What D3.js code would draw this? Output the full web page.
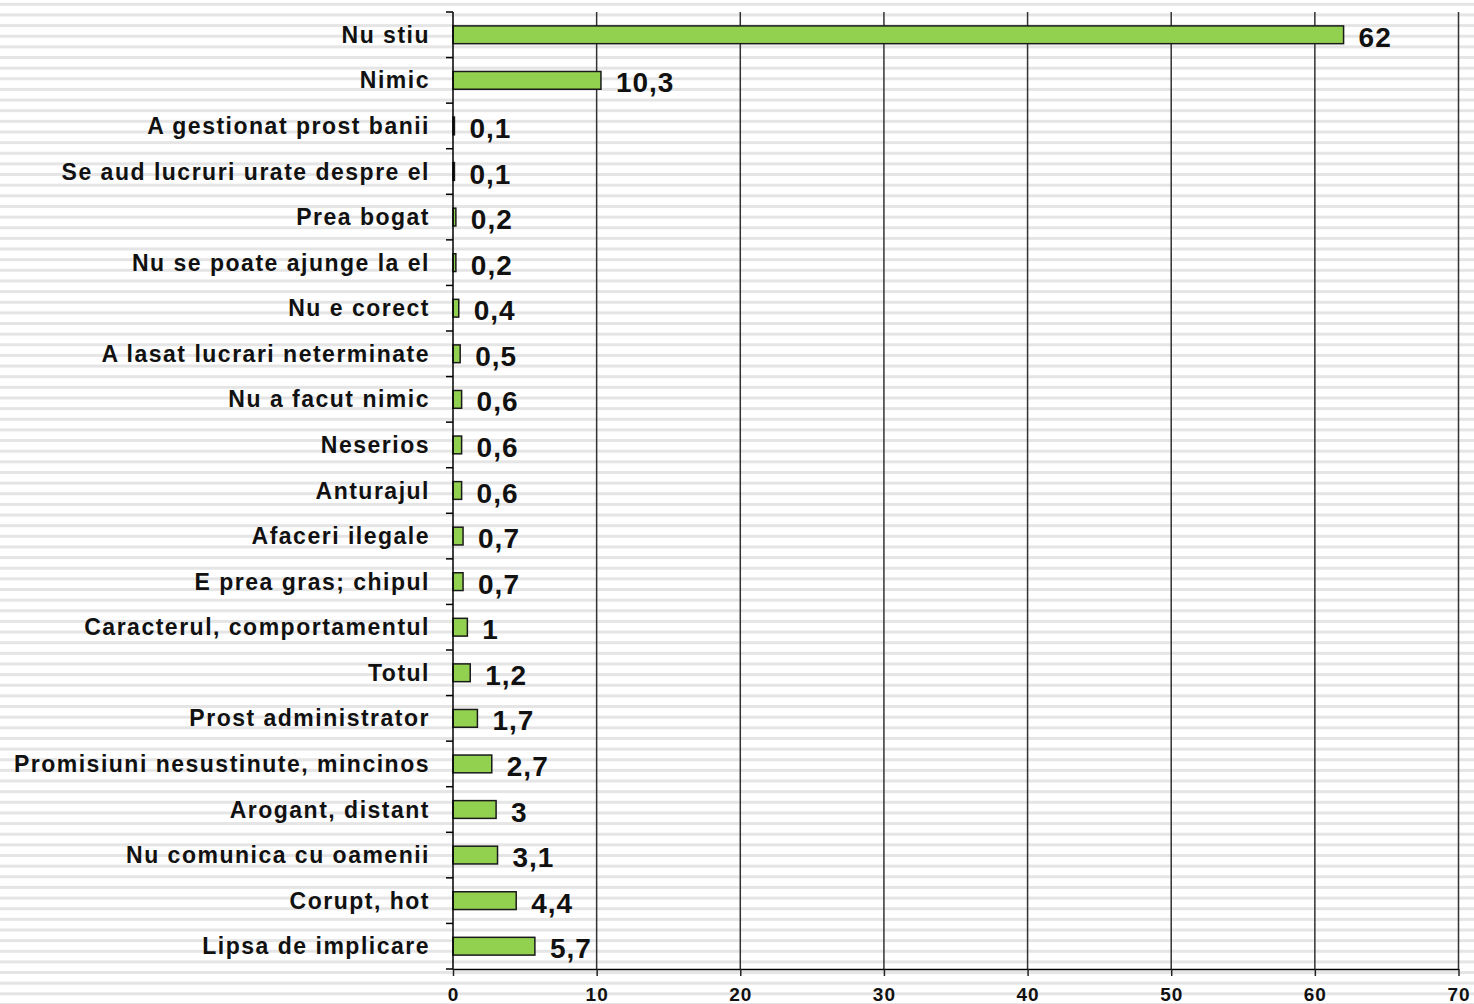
<!DOCTYPE html>
<html>
<head>
<meta charset="utf-8">
<script src="https://cdn.jsdelivr.net/npm/d3@7"></script>
<style>
	html, body { margin: 0; padding: 0; background: #fff; }
	svg text { font-family: "Liberation Sans", Arial, sans-serif; font-weight: bold; fill: #111; }
</style>
</head>
<body>
<div id="chart"></div>
<script>
const categories = [
	"Nu stiu", "Nimic", "A gestionat prost banii", "Se aud lucruri urate despre el",
	"Prea bogat", "Nu se poate ajunge la el", "Nu e corect", "A lasat lucrari neterminate",
	"Nu a facut nimic", "Neserios", "Anturajul", "Afaceri ilegale", "E prea gras; chipul",
	"Caracterul, comportamentul", "Totul", "Prost administrator", "Promisiuni nesustinute, mincinos",
	"Arogant, distant", "Nu comunica cu oamenii", "Corupt, hot", "Lipsa de implicare"
];
const values = [62, 10.3, 0.1, 0.1, 0.2, 0.2, 0.4, 0.5, 0.6, 0.6, 0.6, 0.7, 0.7, 1, 1.2, 1.7, 2.7, 3, 3.1, 4.4, 5.7];
const xTicks = [0, 10, 20, 30, 40, 50, 60, 70];

const W = 1474, H = 1004;
const margin = {top: 12, right: 15, bottom: 35, left: 453};
const width = W - margin.left - margin.right;
const height = H - margin.top - margin.bottom;

const data = categories.map((c, i) => ({name: c, value: values[i]}));

const svg = d3.select("#chart")
	.append("svg")
		.attr("width", W)
		.attr("height", H);

// striped background
const stripeStep = 10.64;
svg.append("g")
	.selectAll("rect")
	.data(d3.range(4.3 - 1.5, H, stripeStep))
	.join("rect")
		.attr("x", 0)
		.attr("y", d => d)
		.attr("width", W)
		.attr("height", 3)
		.attr("fill", "#e5e5e5");

const g = svg.append("g")
	.attr("transform", `translate(${margin.left}, ${margin.top})`);

const x = d3.scaleLinear()
	.domain([0, 70])
	.range([0, width - 0.5]);

const y = d3.scaleBand()
	.domain(categories)
	.range([0, height])
	.paddingInner(0.61)
	.paddingOuter(0.305);

// vertical gridlines
g.append("g")
	.selectAll("line")
	.data(xTicks.filter(t => t > 0))
	.join("line")
		.attr("x1", d => x(d))
		.attr("x2", d => x(d))
		.attr("y1", 0)
		.attr("y2", height)
		.attr("stroke", "#333")
		.attr("stroke-width", 1.5);

// bars
g.append("g")
	.selectAll("rect")
	.data(data)
	.join("rect")
		.attr("x", x(0))
		.attr("y", d => y(d.name))
		.attr("width", d => x(d.value))
		.attr("height", y.bandwidth())
		.attr("fill", "#92d050")
		.attr("stroke", "#1a1a1a")
		.attr("stroke-width", 1.5);

// value labels
g.append("g")
	.selectAll("text")
	.data(data)
	.join("text")
		.attr("x", d => x(d.value) + 15)
		.attr("y", d => y(d.name) + y.bandwidth() / 2 + 12)
		.style("font-size", "28px")
		.style("letter-spacing", "1px")
		.text(d => String(d.value).replace(".", ","));

// x axis
const xAxis = g.append("g")
	.attr("transform", `translate(0, ${height})`)
	.call(d3.axisBottom(x).tickValues(xTicks).tickSize(7).tickPadding(12).tickSizeOuter(0));
xAxis.select(".domain").attr("stroke", "#000").attr("stroke-width", 1.5);
xAxis.selectAll(".tick line").attr("stroke", "#222").attr("stroke-width", 1.5);
xAxis.selectAll("text")
	.style("font-size", "19px")
	.style("letter-spacing", "1px")
	.style("font-family", null)
	.attr("fill", "#111");

// y axis: ticks at category boundaries
const step = y.step();
const boundaries = d3.range(categories.length + 1).map(i => i * step);
g.append("g")
	.selectAll("line")
	.data(boundaries)
	.join("line")
		.attr("x1", -7)
		.attr("x2", 0)
		.attr("y1", d => d)
		.attr("y2", d => d)
		.attr("stroke", "#000")
		.attr("stroke-width", 1.5);
g.append("line")
	.attr("x1", 0).attr("x2", 0)
	.attr("y1", 0).attr("y2", height)
	.attr("stroke", "#000")
	.attr("stroke-width", 1.5);

// category labels
g.append("g")
	.selectAll("text")
	.data(data)
	.join("text")
		.attr("x", -23)
		.attr("y", d => y(d.name) + y.bandwidth() / 2 + 8)
		.attr("text-anchor", "end")
		.style("font-size", "23px")
		.style("letter-spacing", "1.5px")
		.text(d => d.name);
</script>
</body>
</html>
